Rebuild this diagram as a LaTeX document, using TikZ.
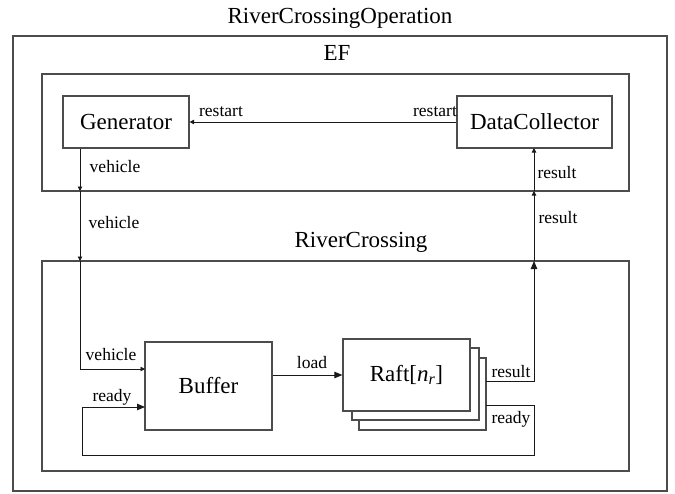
\documentclass[tikz,border=0pt]{standalone}
\usepackage{fontspec}
\setmainfont{Liberation Serif}
\usetikzlibrary{arrows.meta}
\begin{document}
\begin{tikzpicture}[x=1pt,y=-1pt,
  box/.style={draw=black!70, line width=1.2pt, fill=white, inner sep=0pt, font=\fontsize{23}{27}\selectfont},
  cont/.style={draw=black!70, line width=1.2pt, inner sep=0pt},
  ttl/.style={font=\fontsize{23}{27}\selectfont, inner sep=0pt},
  lbl/.style={font=\fontsize{17.5}{20}\selectfont, inner sep=0pt},
  conn/.style={draw=black!90, line width=0.9pt},
  sarr/.style={-{Triangle[length=4.5pt,width=4.5pt]}},
  larr/.style={-{Triangle[length=8pt,width=6.5pt]}},
]
\useasboundingbox (0,0) rectangle (675,493);

% containers
\node[cont, minimum width=654pt, minimum height=455pt] (outer) at (340,263.5) {};
\node[cont, minimum width=587pt, minimum height=117pt] (ef) at (335.5,132.5) {};
\node[cont, minimum width=587pt, minimum height=210pt] (rc) at (335.5,366) {};

\node[ttl] (tOuter) at (340,18) {RiverCrossingOperation};
\node[ttl] (tEF) at (337,53) {EF};
\node[ttl] (tRC) at (361,242) {RiverCrossing};

% blocks
\node[box, minimum width=126pt, minimum height=52pt] (gen) at (126,122) {Generator};
\node[box, minimum width=155pt, minimum height=52pt] (dc) at (534.5,122) {DataCollector};
\node[box, minimum width=127pt, minimum height=88pt] (buf) at (208.5,386) {Buffer};
\node[box, minimum width=127pt, minimum height=72pt] (raft3) at (422.5,394) {};
\node[box, minimum width=127pt, minimum height=72pt] (raft2) at (415.5,384) {};
\node[box, minimum width=127pt, minimum height=72pt] (raft) at (406.5,375) {Raft[\textit{n}\textsubscript{\textit{r}}]};

% coordinates
\coordinate (vEF) at (80,191);
\coordinate (vRC) at (80,261);
\coordinate (vCorner) at (80,369);
\coordinate (vBuf) at (145,369);
\coordinate (rStart) at (486,381);
\coordinate (rCorner) at (534,381);
\coordinate (rRC) at (534,261);
\coordinate (rEF) at (534,191);
\coordinate (rDC) at (534,148);
\coordinate (dStart) at (486,405);
\coordinate (dC1) at (534,405);
\coordinate (dC2) at (534,455);
\coordinate (dC3) at (82,455);
\coordinate (dC4) at (82,407);
\coordinate (dBuf) at (145,407);

% connectors
\draw[conn, sarr] (dc.west) -- (gen.east);
\draw[conn, sarr] (gen.south -| vEF) -- (vEF);
\draw[conn, sarr] (vEF) -- (vRC);
\draw[conn, sarr] (vRC) -- (vCorner) -- (vBuf);
\draw[conn, larr] (buf.east |- raft.west) -- (raft.west);
\draw[conn, larr] (rStart) -- (rCorner) -- (rRC);
\draw[conn, sarr] (rRC) -- (rEF);
\draw[conn, sarr] (rEF) -- (rDC);
\draw[conn, larr] (dStart) -- (dC1) -- (dC2) -- (dC3) -- (dC4) -- (dBuf);

% labels
\node[lbl] (l1) at (221,112) {restart};
\node[lbl] (l2) at (435,112) {restart};
\node[lbl] (l3) at (115,167) {vehicle};
\node[lbl] (l4) at (114,223) {vehicle};
\node[lbl] (l5) at (111,355) {vehicle};
\node[lbl] (l6) at (557,173) {result};
\node[lbl] (l7) at (558,218) {result};
\node[lbl] (l8) at (511,372) {result};
\node[lbl] (l9) at (511,419) {ready};
\node[lbl] (l10) at (112,397) {ready};
\node[lbl] (l11) at (312,363) {load};
\end{tikzpicture}
\end{document}
